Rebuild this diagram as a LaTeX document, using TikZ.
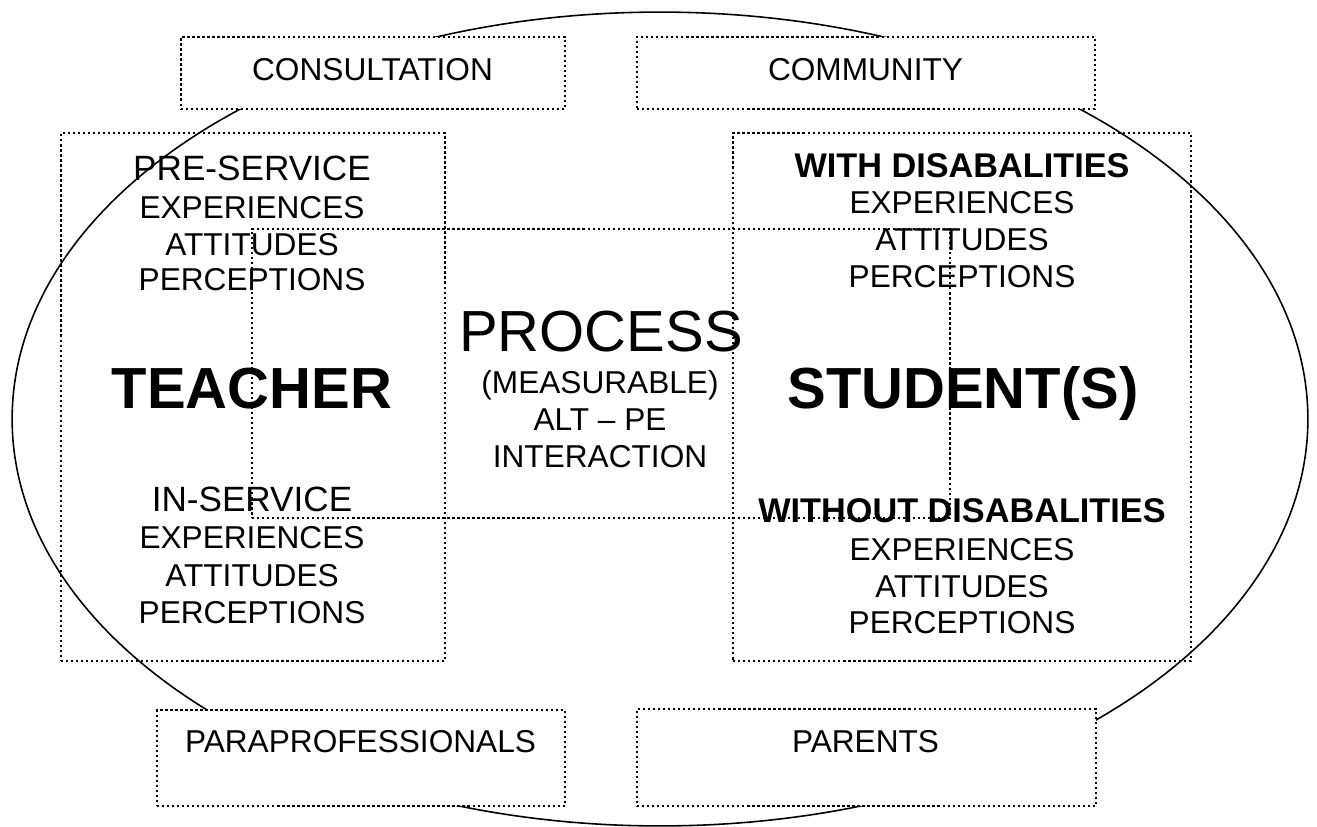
\documentclass[tikz,border=0pt]{standalone}
\usepackage{fontspec}
\setmainfont{Liberation Sans}

\begin{document}
\begin{tikzpicture}
        [
        x=0.02cm, y=-0.02cm,
        box/.style={draw,line width=1.5pt,dash pattern=on 1.3pt off 1.55pt,inner sep=0pt},
        tag/.style={box,fill=white},
        word/.style={anchor=base,inner sep=0pt,font=\fontsize{18}{20}\selectfont},
        head/.style={anchor=base,inner sep=0pt,font=\fontsize{20}{22}\selectfont},
        group/.style={anchor=base,inner sep=0pt,font=\fontsize{19.5}{22}\selectfont\bfseries},
        bigword/.style={anchor=base,inner sep=0pt,font=\fontsize{33}{36}\selectfont}
        ]
    \useasboundingbox (0,0) rectangle (1317,826);
    \draw[line width=0.9pt] (660,419) ellipse [x radius=12.96cm, y radius=8.14cm];

    \node[box,minimum width=7.68cm,minimum height=10.56cm] (teacher) at (253,397) {};
    \node[box,minimum width=9.16cm,minimum height=10.56cm] (student) at (962,397) {};
    \node[box,minimum width=13.96cm,minimum height=5.78cm] (process) at (601,373.5) {};

    \node[tag,minimum width=7.68cm,minimum height=1.44cm] (consult) at (373,73) {};
    \node[tag,minimum width=9.16cm,minimum height=1.44cm] (community) at (866,73) {};
    \node[tag,minimum width=8.16cm,minimum height=1.92cm] (para) at (361,758) {};
    \node[tag,minimum width=9.18cm,minimum height=1.94cm] (parents) at (866.5,757.5) {};

    \node[word] (consulttext) at (372.5,80) {CONSULTATION};
    \node[word] (communitytext) at (865.5,80) {COMMUNITY};
    \node[word] (paratext) at (360.5,752) {PARAPROFESSIONALS};
    \node[word] (parentstext) at (865.5,752) {PARENTS};

    \node[head] (pre) at (252,180) {PRE-SERVICE};
    \node[word] (pre1) at (252,218) {EXPERIENCES};
    \node[word] (pre2) at (252,255) {ATTITUDES};
    \node[word] (pre3) at (252,290) {PERCEPTIONS};
    \node[bigword,font=\fontsize{33}{36}\selectfont\bfseries] (teachertext) at (252,408) {TEACHER};
    \node[head] (in) at (252,511) {IN-SERVICE};
    \node[word] (in1) at (252,548) {EXPERIENCES};
    \node[word] (in2) at (252,586) {ATTITUDES};
    \node[word] (in3) at (252,623) {PERCEPTIONS};

    \node[bigword] (processtext) at (601,351) {PROCESS};
    \node[word] (process1) at (600,393) {(MEASURABLE)};
    \node[word] (process2) at (600,430) {ALT -- PE};
    \node[word] (process3) at (600,467) {INTERACTION};

    \node[group] (with) at (962,177) {WITH DISABALITIES};
    \node[word] (with1) at (962,213) {EXPERIENCES};
    \node[word] (with2) at (962,250) {ATTITUDES};
    \node[word] (with3) at (962,287) {PERCEPTIONS};
    \node[bigword,font=\fontsize{33}{36}\selectfont\bfseries] (studenttext) at (963,408) {STUDENT(S)};
    \node[group] (without) at (962,522) {WITHOUT DISABALITIES};
    \node[word] (without1) at (962,560) {EXPERIENCES};
    \node[word] (without2) at (962,597) {ATTITUDES};
    \node[word] (without3) at (962,633) {PERCEPTIONS};
    \end{tikzpicture}
\end{document}
